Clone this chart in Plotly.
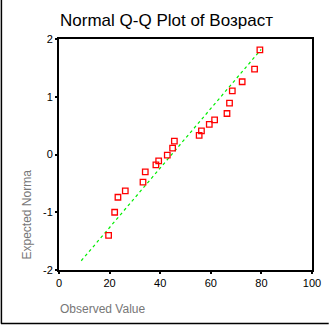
import plotly.graph_objects as go

# Data
observed = [19.6, 22.0, 23.3, 26.2, 33.2, 34.1, 38.3, 39.4, 42.8, 44.9, 45.6,
            55.4, 56.3, 59.4, 61.5, 66.4, 67.4, 68.5, 72.4, 77.3, 79.4]
expected = [-1.40, -1.00, -0.74, -0.63, -0.48, -0.30, -0.18, -0.11, -0.01, 0.11, 0.23,
            0.33, 0.41, 0.52, 0.60, 0.71, 0.89, 1.10, 1.26, 1.48, 1.81]
line_x = [8.8, 79.9]
line_y = [-1.84, 1.82]
x_ticks = [0, 20, 40, 60, 80, 100]
y_ticks = [-2, -1, 0, 1, 2]

W, H = 333, 325
ml, mr, mt, mb = 59, 17, 39, 55

fig = go.Figure()
fig.add_trace(go.Scatter(x=line_x, y=line_y, mode="lines",
                         line=dict(color="#00ee00", width=1.2, dash="dot"),
                         showlegend=False, hoverinfo="skip"))
fig.add_trace(go.Scatter(x=observed, y=expected, mode="markers",
                         marker=dict(symbol="square-open", size=5.5, color="#ff0000",
                                     line=dict(width=1.3, color="#ff0000")),
                         showlegend=False))

fig.update_layout(
    width=W, height=H,
    margin=dict(l=ml, r=mr, t=mt, b=mb, pad=0),
    paper_bgcolor="white", plot_bgcolor="white",
    font=dict(family="Liberation Sans, Arial, sans-serif", size=11, color="black"),
    title=dict(text="Normal Q-Q Plot of Возраст", xref="container", x=0.5, xanchor="center",
               yref="container", y=1 - 20 / H, yanchor="middle",
               font=dict(size=17, color="black")),
    xaxis=dict(range=[0, 100], tickvals=x_ticks, ticktext=[str(v) for v in x_ticks],
               showgrid=False, zeroline=False, showline=True, linecolor="black",
               linewidth=2, mirror=True, ticks="outside", ticklen=2, tickwidth=2,
               tickcolor="black", tickfont=dict(size=11)),
    yaxis=dict(range=[-2, 2], tickvals=y_ticks, ticktext=[str(v) for v in y_ticks],
               showgrid=False, zeroline=False, showline=True, linecolor="black",
               linewidth=2, mirror=True, ticks="outside", ticklen=2, tickwidth=2,
               tickcolor="black", tickfont=dict(size=11)),
)

pw = W - ml - mr
ph = H - mt - mb

def px_x(p):
    return (p - ml) / pw

def px_y(p):
    return (H - mb - p) / ph

fig.add_annotation(text="Observed Value", xref="paper", yref="paper",
                   x=px_x(58), y=px_y(309), xanchor="left", yanchor="middle",
                   showarrow=False, font=dict(size=12, color="#777777"))
fig.add_annotation(text="Expected Norma", xref="paper", yref="paper",
                   x=px_x(27), y=px_y(261), xanchor="center", yanchor="bottom",
                   textangle=-90, showarrow=False, font=dict(size=12, color="#777777"))

# outer frame lines (left and bottom)
fig.add_shape(type="line", xref="paper", yref="paper",
              x0=px_x(0.5), x1=px_x(0.5), y0=px_y(0), y1=px_y(323.5),
              line=dict(color="black", width=1.5))
fig.add_shape(type="line", xref="paper", yref="paper",
              x0=px_x(0), x1=px_x(333), y0=px_y(323.5), y1=px_y(323.5),
              line=dict(color="black", width=1.5))

fig.write_html("out.html")
